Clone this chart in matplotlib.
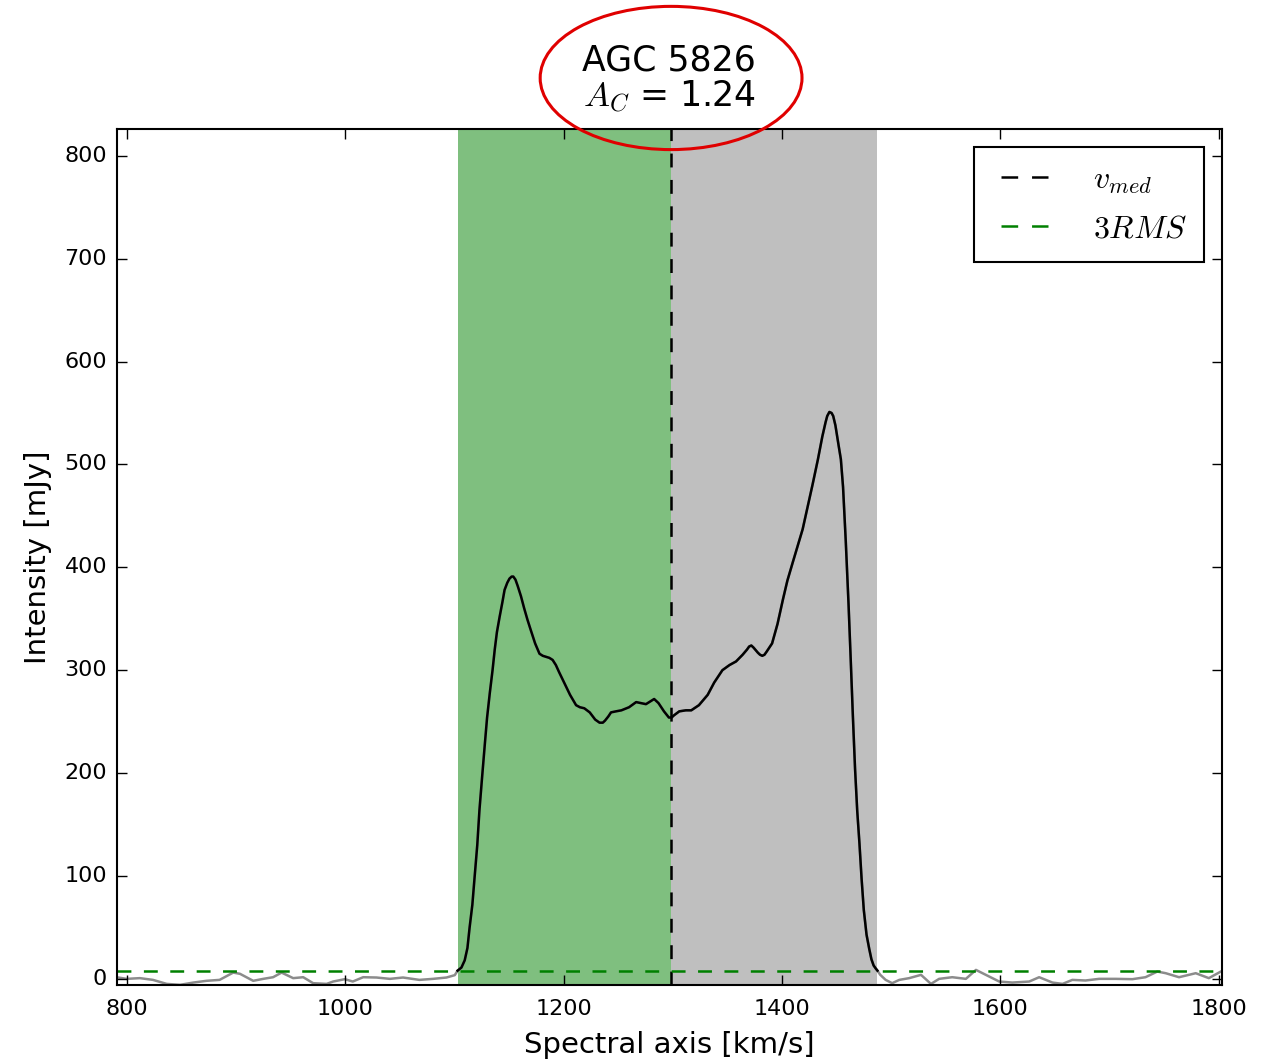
import numpy as np
import matplotlib
matplotlib.use("Agg")
import matplotlib.pyplot as plt
from matplotlib.patches import Ellipse
from matplotlib.lines import Line2D

# spectrum (velocity in km/s, flux in mJy)
vel_left = [791, 800, 812, 824, 836.6, 848.8, 861, 873, 885, 897.5, 903.7, 915.8, 925,
            934, 941.8, 952.4, 961.6, 970.7, 983, 989, 999.7, 1007, 1016.5, 1028.7, 1041,
            1053, 1068, 1080.5, 1092.8, 1100.4]
flux_left = [1.5, 0, 0.7, -1, -4.9, -5.8, -3.6, -1.9, -1, 6.1, 4.9, -1.9, 0,
             1.6, 6.1, 0.7, 1.6, -4.2, -4.9, -2.6, -0.3, -2.6, 1.6, 1.3, 0,
             1.3, -1, 0, 1.3, 3.6]

vel_line = [1103, 1106.5, 1109.5, 1112, 1114, 1116.5, 1118.5, 1121, 1123, 1125.5, 1128,
            1130, 1132.5, 1135, 1137, 1139, 1141.5, 1144, 1146, 1148.5, 1150.5, 1152.5,
            1154, 1156, 1158, 1161, 1164, 1167, 1170, 1174, 1178, 1181, 1184, 1187, 1190,
            1193, 1196, 1201, 1206, 1211.5, 1215, 1219, 1224, 1229, 1233, 1236, 1238,
            1241, 1243.5, 1248, 1253, 1260, 1266.5, 1271, 1275.5, 1280, 1283, 1287, 1292,
            1296.5, 1299, 1301, 1306, 1312, 1317, 1324, 1332, 1338, 1345.5, 1352, 1358,
            1364, 1368, 1370, 1372, 1374, 1378, 1380, 1382, 1384, 1386, 1391, 1396, 1401,
            1405, 1410, 1419, 1428, 1433, 1437, 1440, 1441.5, 1443.5, 1445.5, 1447, 1449,
            1450.5, 1452, 1454, 1456, 1458.5, 1461, 1463, 1465, 1467, 1469, 1471, 1473,
            1475, 1477.5, 1480, 1482, 1484, 1486, 1487.5]
flux_line = [8, 11, 18, 30, 50, 72, 98, 130, 164, 197, 229,
             254, 278, 300, 320, 337, 352, 366, 378, 385, 389, 391,
             391, 388, 382, 372, 360, 349, 339, 326, 316, 314, 313, 312, 310,
             305, 298, 287, 276, 266, 264, 263, 259, 252, 249, 249, 251,
             255, 259, 260, 261, 264, 269, 268, 267, 270, 272, 268, 260,
             254, 254, 256, 260, 261, 261, 266, 276, 288, 300, 305, 308.5,
             315, 320, 323, 324, 322, 317, 315, 314, 315, 318, 326, 345, 369,
             387, 405, 437, 480, 505, 527, 541, 547, 551, 550, 547, 538,
             528, 518, 505, 478, 425, 365, 311, 255, 204, 163, 132, 97,
             67, 43, 29, 19, 13, 10, 8]

vel_right = [1490, 1495, 1501, 1507.5, 1516.6, 1527.4, 1536.5, 1544, 1556, 1568.5, 1577.7,
             1586.8, 1599, 1611, 1626.5, 1635.6, 1647.8, 1657, 1666, 1678, 1690.5, 1705.8,
             1721, 1733, 1743.8, 1751.5, 1763.7, 1779, 1791, 1802]
flux_right = [4, -1, -4.2, -1, 0.7, 3.9, -4.9, 0, 1.6, 0, 8.7,
              3.9, -2.6, -3.6, -2.6, 1.6, -3.6, -4.9, -1, -1.6, 0, 0,
              -0.3, 1.6, 7.1, 5.5, 1.6, 5.5, 0.7, 7.1]

galaxy = "AGC 5826"
a_c = 1.24
v_lo, v_med, v_hi = 1103, 1298, 1487.5
rms3 = 8

vel = np.array(vel_left + vel_line + vel_right)
flux = np.array(flux_left + flux_line + flux_right)
inside = (vel >= v_lo) & (vel <= v_hi)

plt.style.use("classic")
plt.rcParams["figure.facecolor"] = "white"
plt.rcParams["savefig.facecolor"] = "white"
plt.rcParams["font.family"] = "DejaVu Sans"

fig = plt.figure(figsize=(12.71, 10.61), dpi=100)
ax = fig.add_axes([0.092, 0.0716, 0.8694, 0.8068])

# shaded halves of the line window
ax.axvspan(v_lo, v_med, color="g", alpha=0.5, lw=0)
ax.axvspan(v_med, v_hi, color="gray", alpha=0.5, lw=0)

ax.plot(vel, flux, color="0.55", lw=1.8)
ax.plot(vel[inside], flux[inside], color="k", lw=1.8)

ax.axvline(v_med, color="k", ls="--", lw=1.8, dashes=(10, 9))
ax.axhline(rms3, color="g", ls="--", lw=1.8, dashes=(10, 9))

ax.set_xlim(791, 1803)
ax.set_ylim(-6, 826)
ax.set_xticks(np.arange(800, 1801, 200))
ax.set_yticks(np.arange(0, 801, 100))
ax.tick_params(labelsize=16, length=7, width=1, pad=7)
ax.tick_params(axis="x", pad=10)
for s in ax.spines.values():
    s.set_linewidth(1.5)

ax.set_xlabel("Spectral axis [km/s]", fontsize=21, labelpad=9)
ax.set_ylabel("Intensity [mJy]", fontsize=21, labelpad=9)
ax.set_title(galaxy + "\n" + r"$A_C$ = " + f"{a_c:.2f}", fontsize=25, pad=16,
             linespacing=1.05)

# legend keys: two whole dashes each
handles = [Line2D([], [], color="k", lw=1.8, ls=(0, (12, 10))),
           Line2D([], [], color="g", lw=1.8, ls=(0, (12, 10)))]
leg = ax.legend(handles, [r"$v_{med}$", r"$3RMS$"], loc="upper right", fontsize=23,
                handlelength=2.08, borderpad=0.55, labelspacing=0.55,
                handletextpad=1.1, borderaxespad=0.55)
leg.get_frame().set_linewidth(1.5)

# red ring around the title
fig.add_artist(Ellipse((0.528, 0.9265), 0.206, 0.135, transform=fig.transFigure,
                       fill=False, edgecolor="#e00000", lw=2.2, zorder=10))

fig.savefig("out.png", dpi=100)
